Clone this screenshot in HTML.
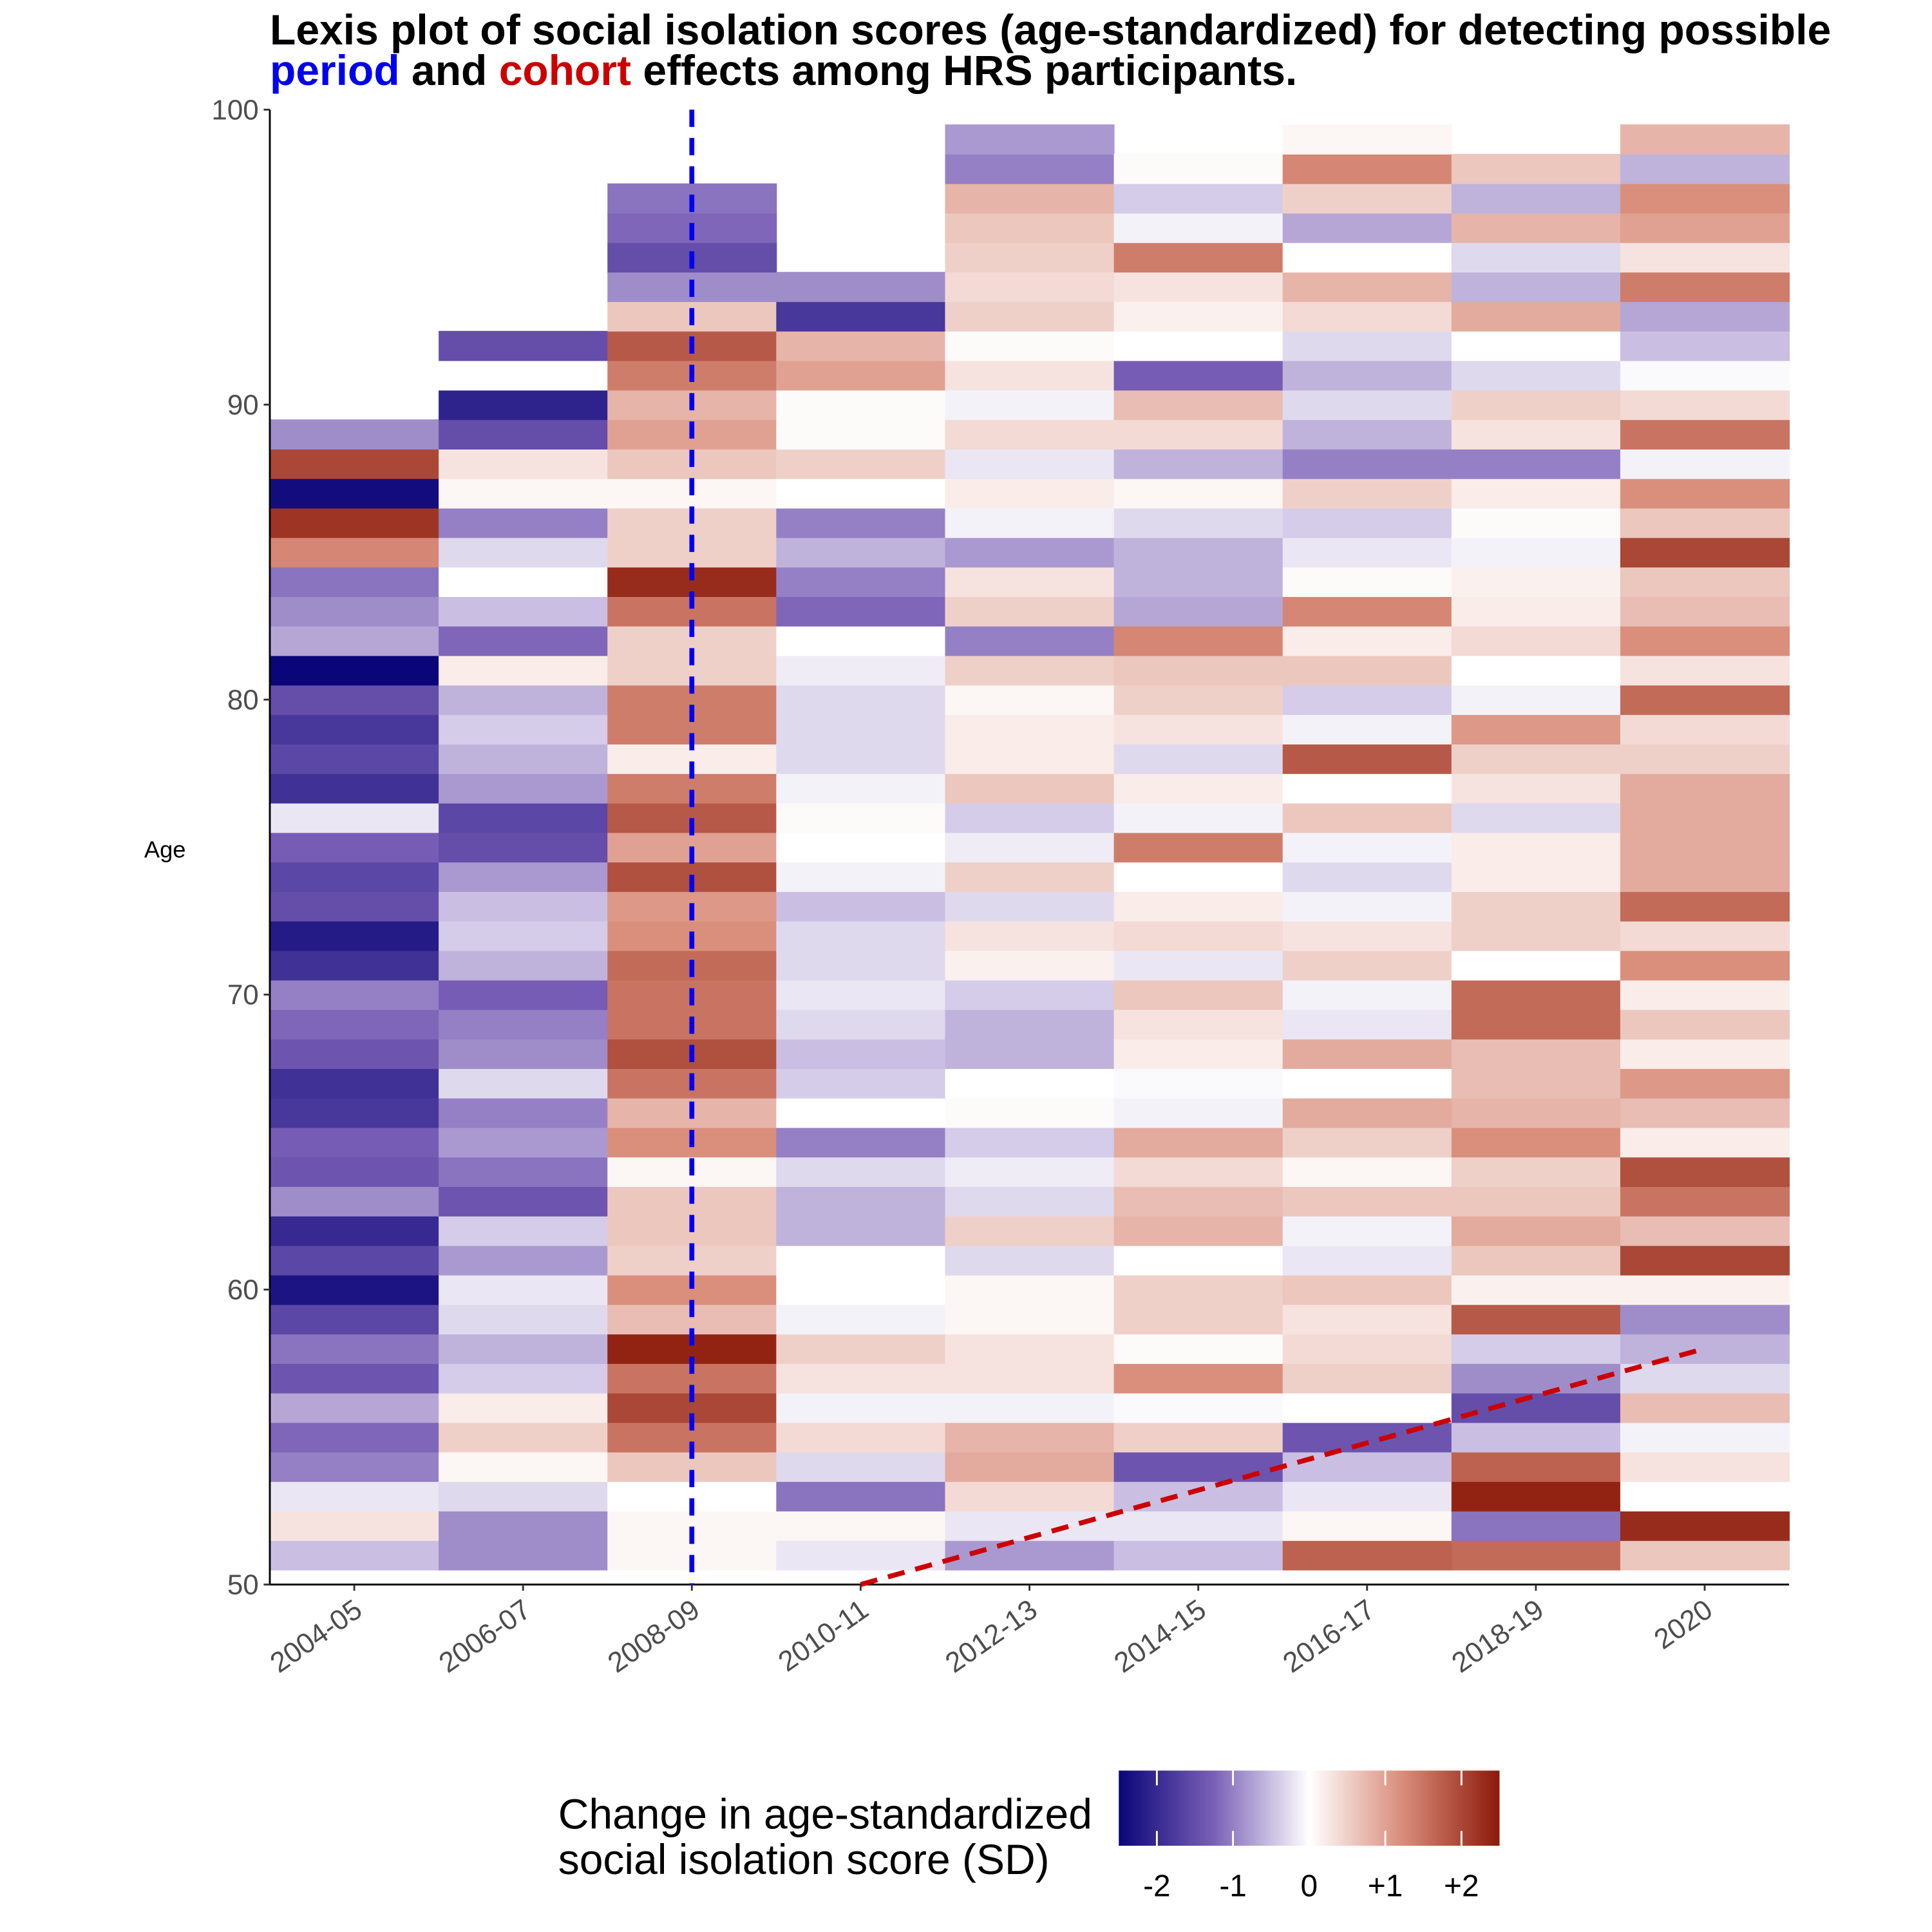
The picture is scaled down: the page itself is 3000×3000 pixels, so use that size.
<!DOCTYPE html>
<html><head><meta charset="utf-8"><style>
html,body{margin:0;padding:0;background:#fff;}
svg{display:block;}
text{font-family:"Liberation Sans",sans-serif;}
</style></head><body>
<svg id="chart" width="3000" height="3000" viewBox="0 0 1568 1568" xmlns="http://www.w3.org/2000/svg">
<rect width="1568" height="1568" fill="#fff"/>
<g id="title">
<text x="219" y="36" font-size="34.5" font-weight="bold" fill="#000">Lexis plot of social isolation scores (age-standardized) for detecting possible</text>
<text x="219" y="69" font-size="34.5" font-weight="bold" fill="#000"><tspan fill="#0000ee">period</tspan> and <tspan fill="#cc0000">cohort</tspan> effects among HRS participants.</text>
</g>
<g id="cells"></g>
<g id="axes"></g>
<g id="overlay"></g>
<g id="legend"></g>
</svg>
<script>
const periods = ["2004-05","2006-07","2008-09","2010-11","2012-13","2014-15","2016-17","2018-19","2020"];
const startAge = 51;
const yTicks = [50,60,70,80,90,100];
const legendTicks = [-2,-1,0,1,2];
const legendLabels = ["-2","-1","0","+1","+2"];
// values per period, from age 51 upward
const v0405 = [-0.5,0.3,-0.2,-1.0,-1.2,-0.7,-1.4,-1.1,-1.6,-2.3,-1.6,-2.0,-0.9,-1.4,-1.3,-1.8,-1.9,-1.4,-1.2,-1.0,-1.9,-2.2,-1.5,-1.6,-1.3,-0.2,-1.9,-1.6,-1.8,-1.5,-2.5,-0.7,-0.9,-1.1,1.3,2.2,-2.4,2.0,-0.9];
const v0607 = [-0.9,-0.9,-0.3,0.1,0.5,0.2,-0.4,-0.6,-0.3,-0.2,-0.8,-0.4,-1.4,-1.1,-0.8,-1.0,-0.3,-0.9,-1.0,-1.3,-0.6,-0.4,-0.5,-0.8,-1.5,-1.6,-0.8,-0.6,-0.4,-0.6,0.2,-1.2,-0.5,0.0,-0.3,-1.0,0.1,0.3,-1.5,-2.1,0.0,-1.5];
const v0809 = [0.1,0.1,0.0,0.6,1.5,2.0,1.5,2.4,0.7,1.2,0.5,0.6,0.6,0.1,1.2,0.8,1.5,1.9,1.5,1.5,1.6,1.2,1.1,1.9,1.0,1.8,1.4,0.2,1.4,1.4,0.5,0.5,1.5,2.3,0.5,0.5,0.1,0.6,1.0,0.8,1.4,1.8,0.6,-0.9,-1.5,-1.2,-1.1];
const v1011 = [-0.2,0.1,-1.1,-0.3,0.4,-0.1,0.3,0.5,-0.1,0.0,0.0,-0.6,-0.6,-0.3,-1.0,0.0,-0.4,-0.5,-0.3,-0.2,-0.3,-0.3,-0.5,-0.1,0.0,0.05,-0.1,-0.3,-0.3,-0.3,-0.15,0.0,-1.2,-1.0,-0.6,-1.0,0.0,0.5,0.05,0.05,1.0,0.8,-1.8,-0.9];
const v1213 = [-0.8,-0.2,0.4,0.9,0.8,-0.1,0.3,0.3,0.1,0.1,-0.3,0.5,-0.3,-0.15,-0.4,0.05,0.0,-0.6,-0.6,-0.4,0.15,0.3,-0.3,0.5,-0.15,-0.4,0.6,0.2,0.2,0.1,0.5,-1.0,0.5,0.3,-0.8,-0.1,0.2,-0.2,0.4,-0.1,0.3,0.05,0.5,0.4,0.5,0.6,0.8,-1.0,-0.8];
const v1415 = [-0.5,-0.2,-0.5,-1.4,0.5,-0.05,1.2,0.05,0.5,0.5,0.0,0.8,0.7,0.4,0.9,-0.1,-0.05,0.2,0.3,0.6,-0.2,0.4,0.2,0.0,1.4,-0.1,0.2,-0.3,0.3,0.5,0.6,1.3,-0.7,-0.6,-0.6,-0.3,0.1,-0.6,0.4,0.7,-1.3,0.0,0.15,0.3,1.4,-0.1,-0.4,0.05];
const v1617 = [1.7,0.1,-0.2,-0.5,-1.4,0.0,0.5,0.4,0.3,0.6,-0.2,-0.1,0.6,0.1,0.5,0.9,0.0,0.9,-0.2,-0.1,0.5,0.3,-0.1,-0.3,-0.1,0.6,0.0,1.8,-0.1,-0.4,0.6,0.2,1.3,0.05,-0.2,-0.4,0.5,-1.0,-0.6,-0.3,-0.6,-0.3,0.4,0.8,0.0,-0.7,0.5,1.3,0.1];
const v1819 = [1.6,-1.1,2.4,1.7,-0.5,-1.5,-0.9,-0.4,1.8,0.15,0.6,0.9,0.6,0.5,1.2,0.8,0.7,0.7,1.6,1.6,0.0,0.5,0.5,0.2,0.2,-0.3,0.3,0.5,1.1,-0.1,0.0,0.4,0.2,0.15,-0.1,0.05,0.2,-1.0,0.3,0.5,-0.3,0.0,0.9,-0.6,-0.3,0.8,-0.6,0.6];
const v2020 = [0.6,2.3,0.0,0.3,-0.1,0.7,-0.3,-0.6,-0.9,0.15,2.0,0.7,1.5,1.9,0.2,0.7,1.1,0.2,0.6,0.2,1.2,0.4,1.6,0.9,0.9,0.9,0.9,0.5,0.4,1.6,0.3,1.2,0.7,0.6,2.0,0.6,1.2,-0.1,1.5,0.4,-0.05,-0.5,-0.7,1.4,0.3,1.0,1.2,-0.6,0.8];
const series = [v0405,v0607,v0809,v1011,v1213,v1415,v1617,v1819,v2020];
const periodLine = 2;           // index of period marker
const cohortStart = [3, 50];    // [period index, age]
const cohortEnd = [8, 58];

const NS="http://www.w3.org/2000/svg";
const L=219,R=1452,T=89,B=1286;
const colW=(R-L)/periods.length;
const xC=i=>L+colW*(i+0.5);
const yA=a=>T+(100-a)*(B-T)/50;
const stops=[[-2.5,[10,5,120]],[-1.25,[122,96,182]],[0,[255,255,255]],[1.25,[216,138,120]],[2.5,[140,26,10]]];
function col(v){
  v=Math.max(-2.5,Math.min(2.5,v));
  for(let k=0;k<stops.length-1;k++){
    const a=stops[k],b=stops[k+1];
    if(v<=b[0]){const t=(v-a[0])/(b[0]-a[0]);
      const c=a[1].map((x,j)=>Math.round(x+(b[1][j]-x)*t));return `rgb(${c})`;}
  }
  return 'rgb(140,26,10)';
}
function el(tag,attrs,parent){const e=document.createElementNS(NS,tag);for(const k in attrs)e.setAttribute(k,attrs[k]);parent.appendChild(e);return e;}
const cells=document.getElementById('cells');
series.forEach((arr,i)=>{
  arr.forEach((v,j)=>{
    const age=startAge+j;
    const r=el('rect',{x:L+colW*i,y:yA(age+0.5),width:colW+0.5,height:(B-T)/50+0.5,fill:col(v)},cells);
    
    
  });
});
const axes=document.getElementById('axes');
el('line',{x1:L,y1:T,x2:L,y2:B,stroke:'#000','stroke-width':1.5},axes);
el('line',{x1:L,y1:B,x2:R,y2:B,stroke:'#000','stroke-width':1.5},axes);
yTicks.forEach(t=>{
  el('line',{x1:L-5,y1:yA(t),x2:L,y2:yA(t),stroke:'#333','stroke-width':1.5},axes);
  const tx=el('text',{x:L-9,y:yA(t)+8,'font-size':23,fill:'#4d4d4d','text-anchor':'end'},axes);
  tx.textContent=t;
  
  
});
periods.forEach((p,i)=>{
  el('line',{x1:xC(i),y1:B,x2:xC(i),y2:B+5,stroke:'#333','stroke-width':1.5},axes);
  const tx=el('text',{x:xC(i)+8,y:B+24,'font-size':23,fill:'#4d4d4d','text-anchor':'end',transform:`rotate(-35 ${xC(i)+8} ${B+24})`},axes);
  tx.textContent=p;
  
  
});
const yt=el('text',{x:117,y:696,'font-size':19,fill:'#000'},axes);
yt.textContent='Age';


const ov=document.getElementById('overlay');
const pl=el('line',{x1:xC(periodLine),y1:T,x2:xC(periodLine),y2:B,stroke:'#0000ee','stroke-width':4,'stroke-dasharray':'14 9'},ov);


const cl=el('line',{x1:xC(cohortStart[0]),y1:yA(cohortStart[1]),x2:xC(cohortEnd[0]),y2:yA(cohortEnd[1]),stroke:'#cc0000','stroke-width':4,'stroke-dasharray':'14 9'},ov);


// legend
const lg=document.getElementById('legend');
const t1=el('text',{x:453,y:1484,'font-size':34.5,fill:'#000'},lg);t1.textContent='Change in age-standardized';


const t2=el('text',{x:453,y:1521,'font-size':34.5,fill:'#000'},lg);t2.textContent='social isolation score (SD)';


const defs=el('defs',{},lg);
const gr=el('linearGradient',{id:'cb',x1:0,x2:1,y1:0,y2:0},defs);
for(let k=0;k<=20;k++){const v=-2.5+k*0.25;el('stop',{offset:(k/20),'stop-color':col(v)},gr);}
const CB0=908,CB1=1217;
const bar=el('rect',{x:CB0,y:1437,width:CB1-CB0,height:61,fill:'url(#cb)'},lg);


const cbx=v=>CB0+(v+2.5)/5*(CB1-CB0);
legendTicks.forEach((t,k)=>{
  el('line',{x1:cbx(t),y1:1437,x2:cbx(t),y2:1449,stroke:'#fff','stroke-width':1.5},lg);
  el('line',{x1:cbx(t),y1:1486,x2:cbx(t),y2:1498,stroke:'#fff','stroke-width':1.5},lg);
  const tx=el('text',{x:cbx(t),y:1539,'font-size':25,fill:'#000','text-anchor':'middle'},lg);
  tx.textContent=legendLabels[k];
  
  
});
</script>
</body></html>
